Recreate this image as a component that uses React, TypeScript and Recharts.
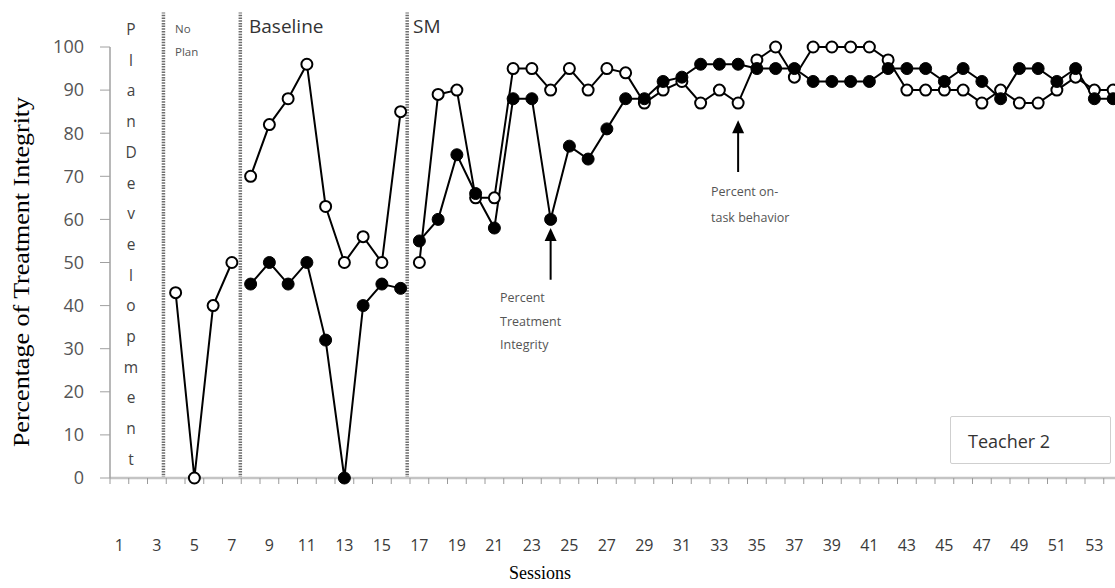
import { LineChart, Line, XAxis, YAxis, ReferenceLine } from "recharts";

// sessions on the x axis
const sessions = [
  1, 2, 3, 4, 5, 6, 7, 8, 9, 10, 11, 12, 13, 14, 15, 16, 17, 18, 19, 20, 21,
  22, 23, 24, 25, 26, 27, 28, 29, 30, 31, 32, 33, 34, 35, 36, 37, 38, 39, 40,
  41, 42, 43, 44, 45, 46, 47, 48, 49, 50, 51, 52, 53, 54,
];
const sessionLabels = [
  1, 3, 5, 7, 9, 11, 13, 15, 17, 19, 21, 23, 25, 27, 29, 31, 33, 35, 37, 39,
  41, 43, 45, 47, 49, 51, 53,
];
const yTicks = [0, 10, 20, 30, 40, 50, 60, 70, 80, 90, 100];

// first session of each phase
const noPlanStart = 4;
const baselineStart = 8;
const smStart = 17;

// percent on-task behavior (open circles)
const onTaskNoPlan = [43, 0, 40, 50];
const onTaskBaseline = [70, 82, 88, 96, 63, 50, 56, 50, 85];
const onTaskSM = [
  50, 89, 90, 65, 65, 95, 95, 90, 95, 90, 95, 94, 87, 90, 92, 87, 90, 87, 97,
  100, 93, 100, 100, 100, 100, 97, 90, 90, 90, 90, 87, 90, 87, 87, 90, 93, 90,
  90,
];

// percent treatment integrity (filled circles)
const integrityBaseline = [45, 50, 45, 50, 32, 0, 40, 45, 44];
const integritySM = [
  55, 60, 75, 66, 58, 88, 88, 60, 77, 74, 81, 88, 88, 92, 93, 96, 96, 96, 95,
  95, 95, 92, 92, 92, 92, 95, 95, 95, 92, 95, 92, 88, 95, 95, 92, 95, 88, 88,
];

// phase change lines sit between sessions
const phaseLines = [3.35, 7.45, 16.35];

const pick = (arr: number[], start: number, s: number) => {
  const i = s - start;
  return i >= 0 && i < arr.length ? arr[i] : null;
};

const rows = sessions.map((s) => ({
  session: s,
  otNoPlan: pick(onTaskNoPlan, noPlanStart, s),
  otBaseline: pick(onTaskBaseline, baselineStart, s),
  otSM: pick(onTaskSM, smStart, s),
  tiBaseline: pick(integrityBaseline, baselineStart, s),
  tiSM: pick(integritySM, smStart, s),
}));

const boundaries = [0, ...sessions].map((s) => s + 0.5);

const SANS = '"Open Sans", "DejaVu Sans", sans-serif';
const SERIF = '"Liberation Serif", "DejaVu Serif", serif';

const openDot = { r: 5.5, fill: "#fff", stroke: "#000", strokeWidth: 2 };
const filledDot = { r: 6, fill: "#000", stroke: "#000", strokeWidth: 1 };

const Arrow = (props: any) => {
  const { x1, y1, x2, y2 } = props;
  const top = Math.min(y1, y2);
  const bottom = Math.max(y1, y2);
  const x = (x1 + x2) / 2;
  return (
    <g>
      <line x1={x} y1={bottom} x2={x} y2={top + 10} stroke="#000" strokeWidth={2} />
      <polygon points={`${x},${top} ${x - 6},${top + 13} ${x + 6},${top + 13}`} fill="#000" />
    </g>
  );
};

const DottedLine = (props: any) => {
  const { x1, y1, x2, y2 } = props;
  return (
    <line
      x1={x1}
      y1={y1}
      x2={x2}
      y2={y2}
      stroke="#6e6e6e"
      strokeWidth={3.5}
      strokeDasharray="1.5 1.2"
    />
  );
};

const planLetters = "PlanDevelopment".split("");

function Note({
  left,
  top,
  size,
  lh,
  color = "#555",
  lines,
  family = SANS,
}: {
  left: number;
  top: number;
  size: number;
  lh: number;
  color?: string;
  lines: string[];
  family?: string;
}) {
  return (
    <div
      style={{
        position: "absolute",
        left,
        top,
        fontFamily: family,
        fontSize: size,
        lineHeight: `${lh}px`,
        color,
        whiteSpace: "nowrap",
      }}
    >
      {lines.map((l, i) => (
        <div key={i}>{l}</div>
      ))}
    </div>
  );
}

export default function App() {
  return (
    <div
      style={{
        position: "fixed",
        left: 0,
        top: 0,
        width: 1115,
        height: 588,
        overflow: "hidden",
        background: "#fff",
      }}
    >
      <LineChart
        width={1125}
        height={588}
        data={rows}
        margin={{ top: 47, right: 2.5, bottom: 0, left: 0 }}
      >
        {/* axis line with tick marks between sessions */}
        <XAxis
          xAxisId={0}
          type="number"
          dataKey="session"
          domain={[0.5, 54.5]}
          ticks={boundaries}
          interval={0}
          tick={() => <g />}
          tickSize={6}
          height={8}
          axisLine={{ stroke: "#c4c4c4", strokeWidth: 2.5 }}
          tickLine={{ stroke: "#9a9a9a", strokeWidth: 1 }}
        />
        {/* session numbers */}
        <XAxis
          xAxisId={1}
          type="number"
          dataKey="session"
          domain={[0.5, 54.5]}
          ticks={sessionLabels}
          interval={0}
          axisLine={false}
          tickLine={false}
          tickSize={0}
          tickMargin={54}
          height={102}
          tick={{ fontSize: 16, fill: "#3a3a3a", fontFamily: SANS }}
        />
        <YAxis
          type="number"
          domain={[0, 100]}
          ticks={yTicks}
          interval={0}
          width={110}
          tickSize={10}
          tickMargin={16}
          axisLine={{ stroke: "#a0a0a0", strokeWidth: 1.5 }}
          tickLine={{ stroke: "#a0a0a0", strokeWidth: 1 }}
          tick={{ fontSize: 18, fill: "#555", fontFamily: SANS }}
        />

        {phaseLines.map((x) => (
          <ReferenceLine
            key={x}
            xAxisId={1}
            segment={[
              { x, y: 0 },
              { x, y: 108 },
            ]}
            ifOverflow="visible"
            shape={DottedLine}
          />
        ))}

        <ReferenceLine
          xAxisId={1}
          segment={[
            { x: 24, y: 46 },
            { x: 24, y: 58 },
          ]}
          shape={Arrow}
        />
        <ReferenceLine
          xAxisId={1}
          segment={[
            { x: 34, y: 71 },
            { x: 34, y: 83 },
          ]}
          shape={Arrow}
        />

        {["otNoPlan", "otBaseline", "otSM"].map((k) => (
          <Line
            key={k}
            xAxisId={1}
            dataKey={k}
            type="linear"
            stroke="#000"
            strokeWidth={2}
            dot={openDot}
            activeDot={false}
            connectNulls={false}
            isAnimationActive={false}
          />
        ))}
        {["tiBaseline", "tiSM"].map((k) => (
          <Line
            key={k}
            xAxisId={1}
            dataKey={k}
            type="linear"
            stroke="#000"
            strokeWidth={2}
            dot={filledDot}
            activeDot={false}
            connectNulls={false}
            isAnimationActive={false}
          />
        ))}
      </LineChart>

      {/* phase labels */}
      <div
        style={{
          position: "absolute",
          left: 121,
          top: 14,
          width: 20,
          textAlign: "center",
          fontFamily: SANS,
          fontSize: 15.5,
          lineHeight: "30.7px",
          color: "#444",
        }}
      >
        {planLetters.map((c, i) => (
          <div key={i}>{c}</div>
        ))}
      </div>
      <Note left={175} top={17} size={11.5} lh={23} lines={["No", "Plan"]} />
      <Note left={249} top={12} size={19} lh={28} color="#333" lines={["Baseline"]} />
      <Note left={413} top={12} size={19} lh={28} color="#333" lines={["SM"]} />

      {/* annotations */}
      <Note
        left={500}
        top={286}
        size={12.5}
        lh={23.5}
        lines={["Percent", "Treatment", "Integrity"]}
      />
      <Note
        left={711}
        top={179}
        size={12.5}
        lh={26}
        lines={["Percent on-", "task behavior"]}
      />

      {/* teacher box */}
      <div
        style={{
          position: "absolute",
          left: 950,
          top: 416,
          width: 161,
          height: 48,
          border: "1.5px solid #cfcfcf",
          borderRadius: 2,
          fontFamily: SANS,
          fontSize: 18,
          lineHeight: "48px",
          color: "#333",
          paddingLeft: 17,
          boxSizing: "border-box",
        }}
      >
        Teacher 2
      </div>

      {/* axis titles */}
      <div
        style={{
          position: "absolute",
          left: 540,
          top: 573,
          transform: "translate(-50%, -50%)",
          fontFamily: SERIF,
          fontSize: 18,
          color: "#000",
          whiteSpace: "nowrap",
        }}
      >
        Sessions
      </div>
      <div
        style={{
          position: "absolute",
          left: 22,
          top: 272,
          transform: "translate(-50%, -50%) rotate(-90deg) scaleY(0.88)",
          fontFamily: SERIF,
          fontSize: 26,
          color: "#000",
          whiteSpace: "nowrap",
        }}
      >
        Percentage of Treatment Integrity
      </div>
    </div>
  );
}
